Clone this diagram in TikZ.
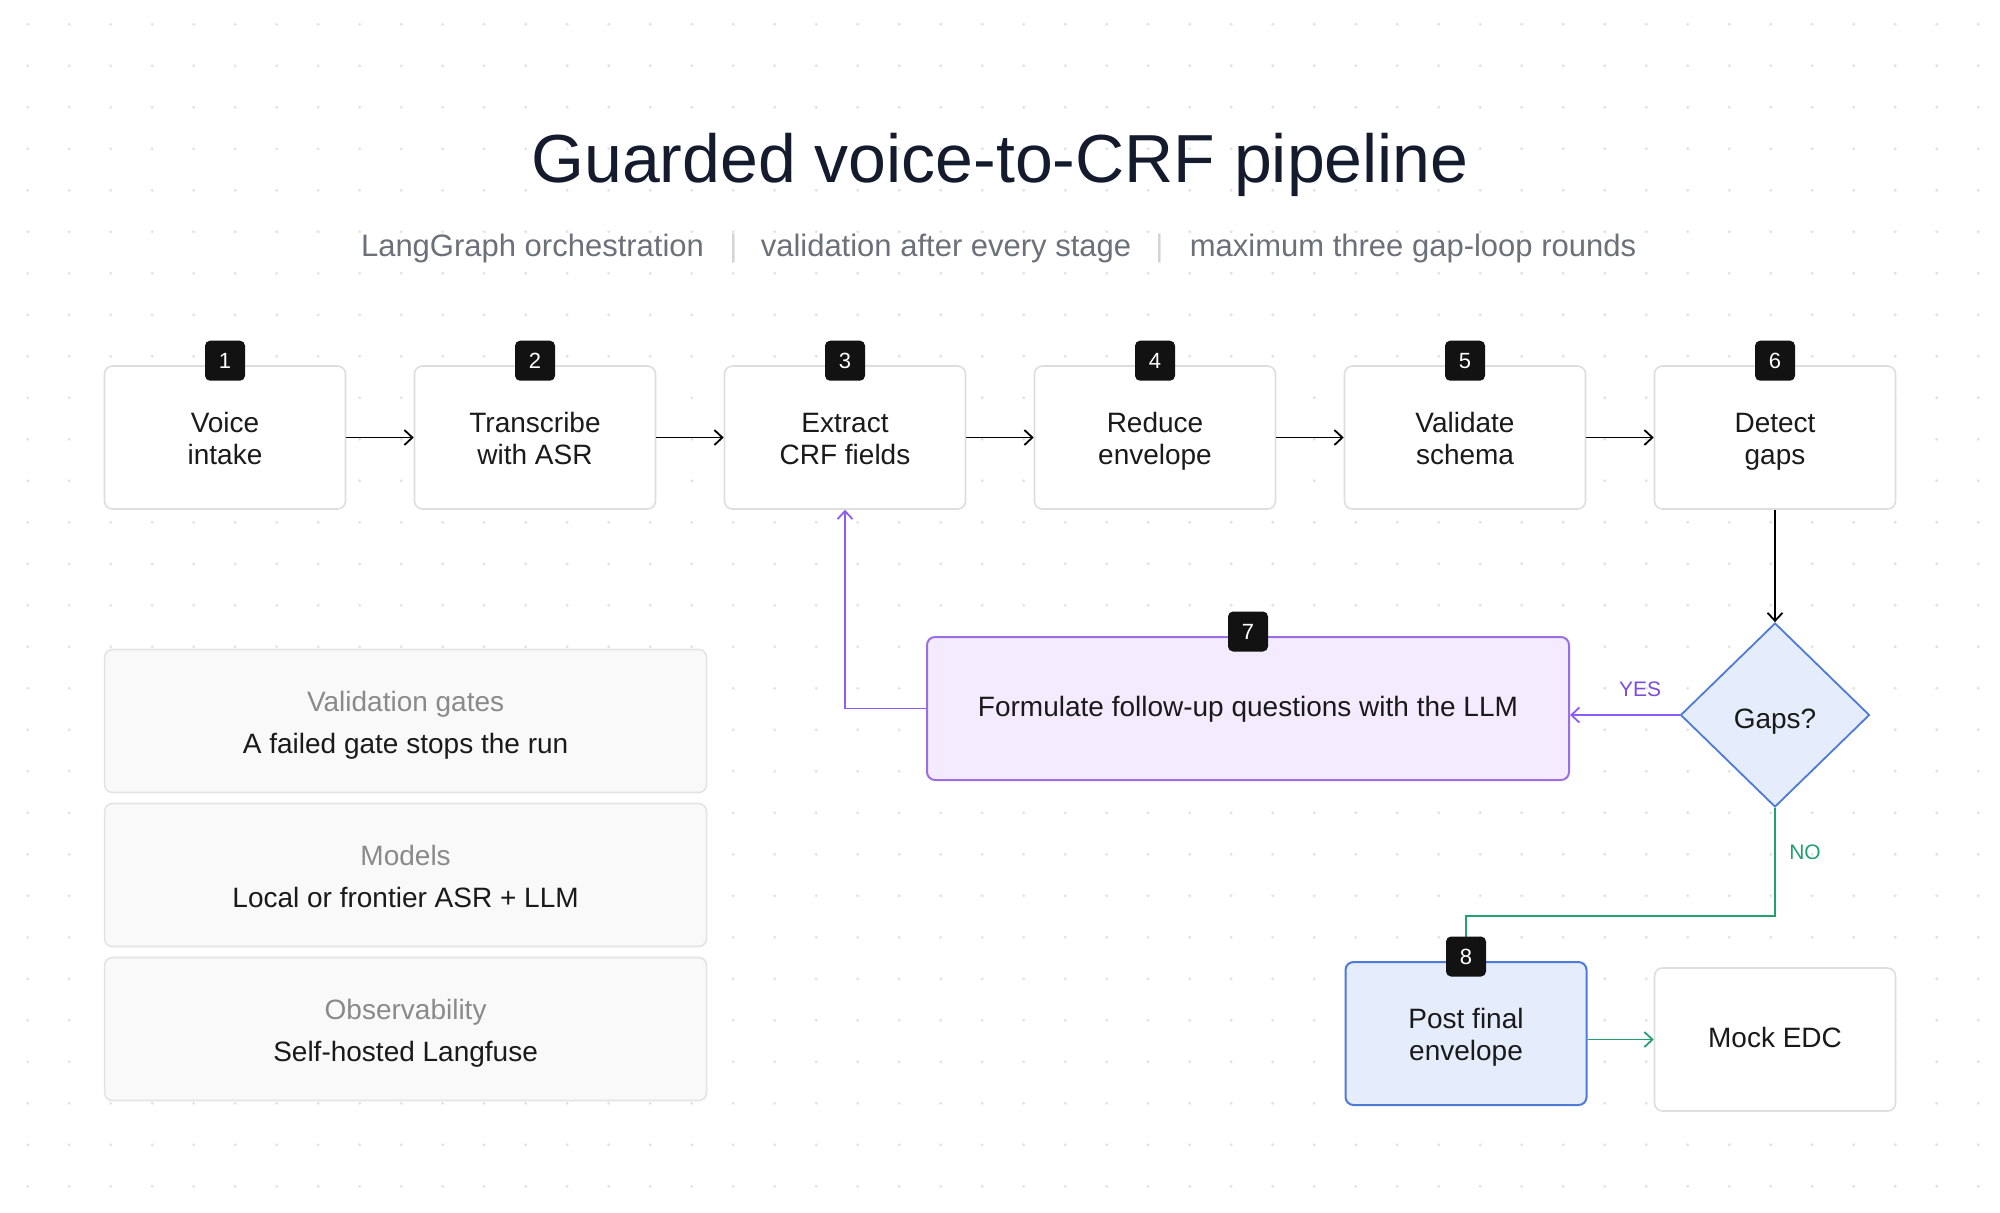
\documentclass[tikz,border=0pt]{standalone}
\usepackage{fontspec}
\setmainfont{Liberation Sans}
\usetikzlibrary{arrows.meta,shapes.geometric,calc}
\definecolor{ink}{HTML}{1A1A1A}
\definecolor{titleink}{HTML}{141B2D}
\definecolor{subgray}{HTML}{6B7079}
\definecolor{sepgray}{HTML}{D4D4D8}
\definecolor{boxline}{HTML}{DEDEDE}
\definecolor{dotgray}{HTML}{E2E2E2}
\definecolor{purpfill}{HTML}{F4ECFE}
\definecolor{purpline}{HTML}{9B6FE3}
\definecolor{purparrow}{HTML}{8B5CF6}
\definecolor{purptext}{HTML}{7C4DDB}
\definecolor{bluefill}{HTML}{E5EDFC}
\definecolor{blueline}{HTML}{4E7AD8}
\definecolor{greenline}{HTML}{22A070}
\definecolor{infofill}{HTML}{F9F9F9}
\definecolor{infoline}{HTML}{E4E4E4}
\definecolor{infotitle}{HTML}{8A8A8A}
\definecolor{badgefill}{HTML}{121212}
\newcommand\tst{\rule{0pt}{14.6pt}}
\newcommand\bst{\rule[-3.5pt]{0pt}{3.5pt}}
\newcommand\ost{\rule[-3.5pt]{0pt}{14.7pt}}
\begin{document}
\begin{tikzpicture}[x=0.5pt,y=-0.5pt,
  stage/.style={draw=boxline, line width=0.8pt, fill=white, rounded corners=4pt,
    minimum width=120.5pt, minimum height=71.5pt, inner sep=0pt, align=center,
    text=ink, font=\fontsize{14}{16.3}\selectfont},
  badge/.style={fill=badgefill, rounded corners=2.5pt, minimum width=20pt,
    minimum height=20pt, inner sep=0pt, text=white, font=\fontsize{11}{11}\selectfont},
  conn/.style={line width=0.9pt, -{Straight Barb[length=4pt,width=7.5pt]}},
  infobox/.style={draw=infoline, fill=infofill, line width=0.8pt, rounded corners=4pt,
    minimum width=301pt, minimum height=71.5pt, inner sep=0pt},
  infohead/.style={anchor=base, inner sep=0pt, text=infotitle, font=\fontsize{14}{14}\selectfont},
  infobody/.style={anchor=base, inner sep=0pt, text=ink, font=\fontsize{14}{14}\selectfont},
  subtxt/.style={anchor=base, inner sep=0pt, text=subgray, font=\fontsize{15.5}{15.5}\selectfont},
  septxt/.style={anchor=base, inner sep=0pt, text=sepgray, font=\fontsize{15.5}{15.5}\selectfont},
  edgelabel/.style={inner sep=0pt, font=\fontsize{10.5}{10.5}\selectfont}
]
\useasboundingbox (0,0) rectangle (2000,1212);
\fill[white] (0,0) rectangle (2000,1212);
\foreach \i in {0,...,48} {
  \foreach \j in {0,...,29} {
    \fill[dotgray] (27.7+41.5*\i, 24.3+41.5*\j) circle (0.8pt);
  }
}

% title
\node[anchor=base, inner sep=0pt, text=titleink, font=\fontsize{34}{34}\selectfont] (title) at (1000,182) {Guarded voice-to-CRF pipeline};
\node[subtxt] (s1) at (532.5,256) {LangGraph orchestration};
\node[septxt] (p1) at (733.5,256) {|};
\node[subtxt] (s2) at (946,256) {validation after every stage};
\node[septxt] (p2) at (1159.5,256) {|};
\node[subtxt] (s3) at (1413,256) {maximum three gap-loop rounds};

% top row
\node[stage] (b1) at (225,437.5) {\tst Voice\\intake\bst};
\node[stage] (b2) at (535,437.5) {\tst Transcribe\\with ASR\bst};
\node[stage] (b3) at (845,437.5) {\tst Extract\\CRF fields\bst};
\node[stage] (b4) at (1155,437.5) {\tst Reduce\\envelope\bst};
\node[stage] (b5) at (1465,437.5) {\tst Validate\\schema\bst};
\node[stage] (b6) at (1775,437.5) {\tst Detect\\gaps\bst};

% loop box and decision
\node[stage, fill=purpfill, draw=purpline, line width=1pt, minimum width=321pt] (b7) at (1248,708.5) {\ost Formulate follow-up questions with the LLM};
\node[diamond, draw=blueline, fill=bluefill, line width=0.9pt, minimum width=94.5pt, minimum height=92pt, inner sep=0pt] (gap) at (1775,715) {};
\node[anchor=base, inner sep=0pt, text=ink, font=\fontsize{14}{14}\selectfont] (gaptxt) at ($(gap.center)+(0,13)$) {Gaps?};

% final
\node[stage, fill=bluefill, draw=blueline, line width=1pt] (b8) at (1466,1033.5) {\tst Post final\\envelope\bst};
\node[stage] (mock) at (1775,1039.5) {\ost Mock EDC};

% info boxes
\node[infobox] (i1) at (405.6,721) {};
\node[infohead] (i1t) at ($(i1.center)+(0,-10)$) {Validation gates};
\node[infobody] (i1b) at ($(i1.center)+(0,32)$) {A failed gate stops the run};
\node[infobox] (i2) at (405.6,875) {};
\node[infohead] (i2t) at ($(i2.center)+(0,-10)$) {Models};
\node[infobody] (i2b) at ($(i2.center)+(0,32)$) {Local or frontier ASR + LLM};
\node[infobox] (i3) at (405.6,1029) {};
\node[infohead] (i3t) at ($(i3.center)+(0,-10)$) {Observability};
\node[infobody] (i3b) at ($(i3.center)+(0,32)$) {Self-hosted Langfuse};

% connectors
\draw[conn] (b1.east) -- (b2.west);
\draw[conn] (b2.east) -- (b3.west);
\draw[conn] (b3.east) -- (b4.west);
\draw[conn] (b4.east) -- (b5.west);
\draw[conn] (b5.east) -- (b6.west);
\draw[conn] (b6.south) -- (gap.north);
\draw[conn, purparrow] (gap.west) -- (gap.west -| b7.east);
\node[edgelabel, text=purptext] (yes) at (1640,689) {YES};
\draw[conn, purparrow] (b7.west) -| (b3.south);
\draw[conn, greenline] (gap.south) |- ($(b8.north)+(0,-45)$) -- (b8.north);
\node[edgelabel, text=greenline] (no) at (1805,852) {NO};
\draw[conn, greenline] (b8.east |- mock.west) -- (mock.west);

% badges
\node[badge] (n1) at ($(b1.north)+(0,-4.5)$) {1};
\node[badge] (n2) at ($(b2.north)+(0,-4.5)$) {2};
\node[badge] (n3) at ($(b3.north)+(0,-4.5)$) {3};
\node[badge] (n4) at ($(b4.north)+(0,-4.5)$) {4};
\node[badge] (n5) at ($(b5.north)+(0,-4.5)$) {5};
\node[badge] (n6) at ($(b6.north)+(0,-4.5)$) {6};
\node[badge] (n7) at ($(b7.north)+(0,-4.5)$) {7};
\node[badge] (n8) at ($(b8.north)+(0,-4.5)$) {8};
\end{tikzpicture}
\end{document}
